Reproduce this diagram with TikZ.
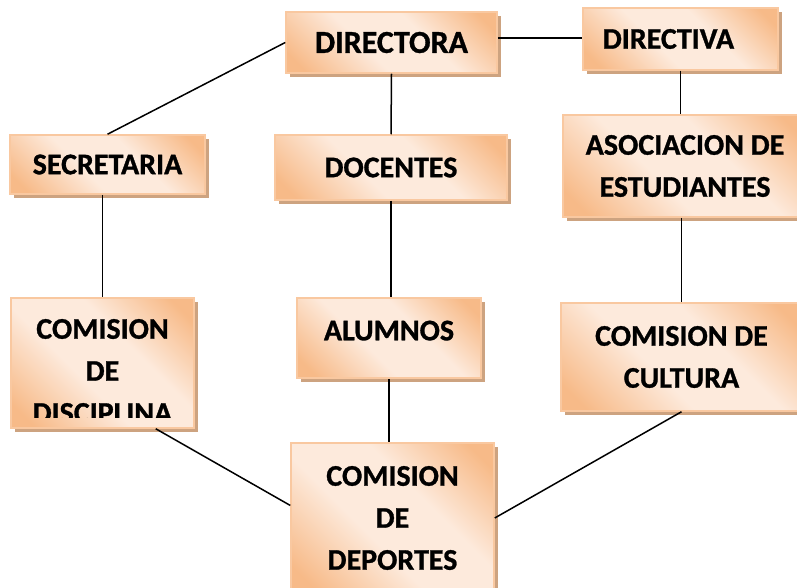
\documentclass[tikz,border=0pt]{standalone}
\usepackage{fontspec}
\setmainfont{Carlito}
\newfontfamily\boxfont{Carlito}[UprightFont={* Bold}, FakeBold=1]
\usetikzlibrary{shadows}

\definecolor{boxorange}{RGB}{247,186,136}
\definecolor{boxlight}{RGB}{253,234,220}
\definecolor{boxedge}{RGB}{249,200,160}
\definecolor{boxshadow}{RGB}{205,163,128}

\pgfdeclarehorizontalshading{boxshade}{100bp}{color(0bp)=(boxorange); color(20bp)=(boxorange);
    color(42bp)=(boxlight); color(60bp)=(boxlight); color(80bp)=(boxorange); color(100bp)=(boxorange)}

\begin{document}
\begin{tikzpicture}[x=1pt, y=-1pt, line width=1.5pt,
    orgbox/.style={rectangle, draw=boxedge, line width=1.5pt,
        shading=boxshade, shading angle=45,
        drop shadow={shadow xshift=4pt, shadow yshift=-4pt, fill=boxshadow, opacity=1}},
    boxtext/.style={align=center, inner sep=0pt, font=\fontsize{30}{42}\boxfont}]
    \clip (0,0) rectangle (797,588);

    % Nodes {directora, directiva, secretaria, docentes, asociacion, etc}
    \node [orgbox, boxtext, minimum width=211pt, minimum height=61pt, font=\fontsize{32}{42}\boxfont]	(directora)	at (391.5,42.5)	{DIRECTORA};
    \node [orgbox, boxtext, minimum width=195pt, minimum height=62pt]	(directiva)	at (680.5,39)	{DIRECTIVA\hspace*{24pt}};
    \node [orgbox, boxtext, minimum width=195pt, minimum height=59pt]	(secretaria)	at (107.5,164.5)	{SECRETARIA};
    \node [orgbox, boxtext, minimum width=232pt, minimum height=65pt]	(docentes)	at (391,167.5)	{DOCENTES};
    \node [orgbox, boxtext, minimum width=244pt, minimum height=102pt]	(asociacion)	at (685,166)	{ASOCIACION DE\\ESTUDIANTES};
    \node [orgbox, minimum width=183pt, minimum height=130pt]	(disciplina)	at (102.5,363)	{};
    \node [orgbox, boxtext, minimum width=184pt, minimum height=80pt, text depth=15pt]	(alumnos)	at (389,338)	{ALUMNOS};
    \node [orgbox, boxtext, minimum width=241pt, minimum height=108pt]	(cultura)	at (681.5,357)	{COMISION DE\\CULTURA};
    \node [orgbox, boxtext, minimum width=203pt, minimum height=150pt]	(deportes)	at (392.5,518)	{COMISION\\DE\\DEPORTES};

    % text of disciplina, cut at the box
    \begin{scope}
        \clip (disciplina.north west) rectangle ([yshift=11pt]disciplina.south east);
        \node [boxtext]	(disciplinatext)	at (102.5,371)	{COMISION\\DE\\DISCIPLINA};
    \end{scope}

    % Paths
    \path [-]	(directora.west) edge	(secretaria.north);
    \path [-]	(directora.east |- 0,38) edge	(directiva.west |- 0,38);
    \path [-]	(directora.south) edge	(docentes.north);
    \path [-]	(directiva.south) edge	(directiva.south |- asociacion.north);
    \path [-]	(asociacion.south -| cultura.north) edge	(cultura.north);
    \path [-]	(disciplina.north |- secretaria.south) edge	(disciplina.north);
    \path [-]	(docentes.south) edge	(docentes.south |- alumnos.north);
    \path [-]	(alumnos.south) edge	(alumnos.south |- deportes.north);
    \path [-]	(disciplina.-51) edge	(deportes.173);
    \path [-]	(cultura.south) edge	(deportes.east);
\end{tikzpicture}
\end{document}
